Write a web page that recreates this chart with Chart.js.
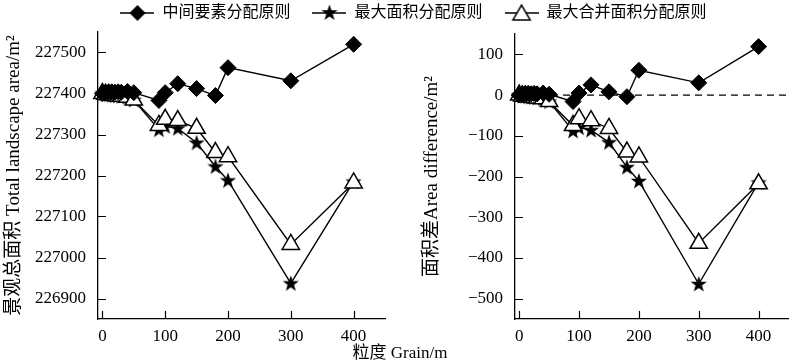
<!DOCTYPE html>
<html>
<head>
<meta charset="utf-8">
<script src="https://cdn.jsdelivr.net/npm/chart.js@4.4.0/dist/chart.umd.min.js"></script>
<style>
  html, body { margin: 0; padding: 0; background: #fff; }
  #wrap { position: relative; width: 800px; height: 364px; }
  .box { position: absolute; top: 0; height: 364px; }
</style>
</head>
<body>
<div id="wrap">
  <div class="box" style="left:0;width:400px"><canvas id="leftChart"></canvas></div>
  <div class="box" style="left:400px;width:400px"><canvas id="rightChart"></canvas></div>
  <div class="box" style="left:0;width:800px;pointer-events:none"><canvas id="legendChart"></canvas></div>
</div>
<script>
// grain sizes (m)
const grain = [0, 5, 10, 15, 20, 25, 30, 40, 50, 90, 100, 120, 150, 180, 200, 300, 400];

// left: total landscape area (m2)
const totalMiddle = [227400, 227403, 227404, 227404, 227403, 227404, 227403, 227405, 227402, 227383, 227402, 227424, 227412, 227395, 227463, 227431, 227520];
const totalMaxArea = [227400, 227398, 227397, 227396, 227395, 227394, 227393, 227391, 227384, 227312, 227320, 227315, 227280, 227222, 227188, 226937, 227185];
const totalMerged = [227400, 227398, 227397, 227396, 227395, 227394, 227393, 227391, 227384, 227322, 227337, 227334, 227315, 227256, 227246, 227032, 227182];

// right: area difference (m2)
const diffMiddle = [0, 3, 4, 4, 3, 4, 3, 5, 2, -16, 5, 25, 8, -4, 61, 30, 119];
const diffMaxArea = [0, -2, -3, -4, -5, -6, -7, -9, -16, -88, -80, -86, -116, -177, -211, -464, -215];
const diffMerged = [0, -2, -3, -4, -5, -6, -7, -9, -16, -75, -58, -63, -82, -140, -152, -364, -218];

const seriesNames = ['中间要素分配原则', '最大面积分配原则', '最大合并面积分配原则'];
const xTicks = [0, 100, 200, 300, 400];
const leftTicks = [226900, 227000, 227100, 227200, 227300, 227400, 227500];
const rightTicks = [-500, -400, -300, -200, -100, 0, 100];

Chart.defaults.font.family = '"Liberation Serif", "Noto Sans CJK SC", serif';
Chart.defaults.font.size = 17;
Chart.defaults.color = '#000';

function drawMarker(ctx, kind, cx, cy) {
  ctx.lineWidth = 1.5;
  ctx.strokeStyle = '#000';
  ctx.beginPath();
  if (kind === 'diamond') {
    ctx.moveTo(cx, cy - 8); ctx.lineTo(cx + 8, cy); ctx.lineTo(cx, cy + 8); ctx.lineTo(cx - 8, cy);
    ctx.closePath(); ctx.fillStyle = '#000'; ctx.fill();
  } else if (kind === 'star') {
    for (let i = 0; i < 10; i++) {
      const r = i % 2 ? 3.4 : 8.5;
      const a = -Math.PI / 2 + i * Math.PI / 5;
      ctx.lineTo(cx + r * Math.cos(a), cy + r * Math.sin(a));
    }
    ctx.closePath(); ctx.fillStyle = '#000'; ctx.fill();
  } else {
    const r = 10;
    for (let i = 0; i < 3; i++) {
      const a = -Math.PI / 2 + i * 2 * Math.PI / 3;
      ctx.lineTo(cx + r * Math.cos(a), cy + r * Math.sin(a) + 2);
    }
    ctx.closePath(); ctx.fillStyle = '#fff'; ctx.fill(); ctx.stroke();
  }
}

function starImage() {
  const c = document.createElement('canvas');
  c.width = 20; c.height = 20;
  drawMarker(c.getContext('2d'), 'star', 10, 10.5);
  return c;
}

function legendImage(kind) {
  const c = document.createElement('canvas');
  c.width = 34; c.height = 24;
  const ctx = c.getContext('2d');
  ctx.strokeStyle = '#000'; ctx.lineWidth = 1.3;
  ctx.beginPath(); ctx.moveTo(0, 12); ctx.lineTo(34, 12); ctx.stroke();
  drawMarker(ctx, kind, 17, 12);
  return c;
}

const star = starImage();

function makeSets(mid, maxA, merged) {
  return [
    { label: seriesNames[0], data: mid, order: 0, borderColor: '#000', borderWidth: 1.4,
      pointStyle: 'rectRot', pointRadius: 8, pointBackgroundColor: '#000', pointBorderColor: '#000', pointBorderWidth: 1 },
    { label: seriesNames[1], data: maxA, order: 2, borderColor: '#000', borderWidth: 1.4,
      pointStyle: star, pointRadius: 8 },
    { label: seriesNames[2], data: merged, order: 1, borderColor: '#000', borderWidth: 1.4,
      pointStyle: 'triangle', pointRadius: 10, pointBackgroundColor: '#fff', pointBorderColor: '#000', pointBorderWidth: 1.5 }
  ].map(d => Object.assign(d, { data: d.data.map((v, i) => ({ x: grain[i], y: v })), tension: 0, clip: false }));
}

// tick marks pointing into the plot
const inwardTicks = {
  id: 'inwardTicks',
  beforeDatasetsDraw(chart) {
    const { ctx, chartArea, scales } = chart;
    ctx.save();
    ctx.strokeStyle = '#000';
    ctx.lineWidth = 1.2;
    ctx.beginPath();
    scales.x.ticks.forEach(t => {
      const px = Math.round(scales.x.getPixelForValue(t.value)) + 0.5;
      ctx.moveTo(px, chartArea.bottom);
      ctx.lineTo(px, chartArea.bottom - 8);
    });
    scales.y.ticks.forEach(t => {
      const py = Math.round(scales.y.getPixelForValue(t.value)) + 0.5;
      ctx.moveTo(chartArea.left, py);
      ctx.lineTo(chartArea.left + 8, py);
    });
    ctx.stroke();
    ctx.restore();
  }
};

function axisOpts(tickList, fmt, pad) {
  return {
    border: { display: true, color: '#000', width: 1.3 },
    grid: { drawOnChartArea: false, drawTicks: false },
    afterBuildTicks: s => { s.ticks = tickList.map(v => ({ value: v })); },
    ticks: { callback: fmt, padding: pad }
  };
}

const minus = v => String(v).replace('-', '\u2212');

function buildChart(id, mid, maxA, merged, yMin, yMax, yTicks, yTitle, pad, yWidth, titlePad, zeroLine) {
  const x = axisOpts(xTicks, v => v, 7);
  Object.assign(x, { type: 'linear', min: -7, max: 450, afterFit: s => { s.height = 45; } });
  const y = axisOpts(yTicks, minus, 12);
  Object.assign(y, {
    min: yMin, max: yMax,
    afterFit: s => { s.width = yWidth; },
    title: { display: true, text: yTitle, font: { size: 19 }, padding: { top: titlePad, bottom: 0 } }
  });
  const plugins = [inwardTicks];
  if (zeroLine) {
    plugins.push({
      id: 'zeroLine',
      beforeDatasetsDraw(chart) {
        const { ctx, chartArea } = chart;
        const py = chart.scales.y.getPixelForValue(0);
        ctx.save();
        ctx.setLineDash([7, 5]);
        ctx.lineWidth = 1.3;
        ctx.strokeStyle = '#000';
        ctx.beginPath(); ctx.moveTo(chartArea.left, py); ctx.lineTo(chartArea.right, py); ctx.stroke();
        ctx.restore();
      }
    });
  }
  return new Chart(document.getElementById(id), {
    type: 'line',
    data: { datasets: makeSets(mid, maxA, merged) },
    options: {
      responsive: true, maintainAspectRatio: false, animation: false,
      layout: { padding: pad },
      plugins: { legend: { display: false }, tooltip: { enabled: false } },
      scales: { x: x, y: y }
    },
    plugins: plugins
  });
}

buildChart('leftChart', totalMiddle, totalMaxArea, totalMerged, 226850, 227550, leftTicks,
  '景观总面积 Total landscape area/m²', { top: 32, right: 15, left: 0, bottom: 0 }, 98, 3, false);
buildChart('rightChart', diffMiddle, diffMaxArea, diffMerged, -550, 150, rightTicks,
  '面积差Area difference/m²', { top: 34, right: 0, left: 0, bottom: 0 }, 115, 21, true);

// shared legend and x-axis title
new Chart(document.getElementById('legendChart'), {
  type: 'line',
  data: {
    datasets: [
      { label: seriesNames[0], data: [], pointStyle: legendImage('diamond') },
      { label: seriesNames[1], data: [], pointStyle: legendImage('star') },
      { label: seriesNames[2], data: [], pointStyle: legendImage('triangle') }
    ]
  },
  options: {
    responsive: true, maintainAspectRatio: false, animation: false,
    layout: { padding: { top: -17 } },
    scales: { x: { display: false }, y: { display: false } },
    plugins: {
      tooltip: { enabled: false },
      legend: {
        position: 'top',
        labels: { usePointStyle: true, pointStyleWidth: 34, padding: 22, font: { size: 16 } }
      },
      title: {
        display: true, position: 'bottom', text: '粒度 Grain/m',
        font: { size: 17, weight: 'normal' }, padding: { top: 0, bottom: 0 }
      }
    }
  },
  plugins: [{
    id: 'shiftLegend',
    afterLayout(chart) { chart.legend.left += 27; }
  }]
});
</script>
</body>
</html>
